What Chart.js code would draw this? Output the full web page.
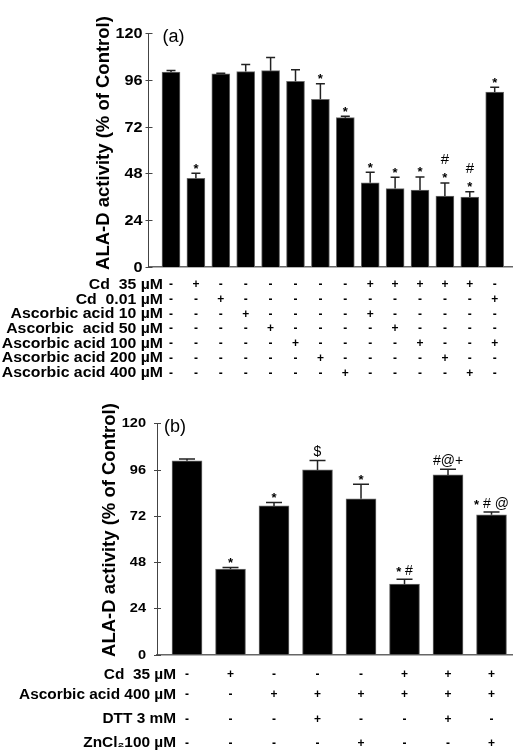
<!DOCTYPE html>
<html><head><meta charset="utf-8">
<script src="https://cdn.jsdelivr.net/npm/chart.js@4/dist/chart.umd.min.js"></script>
<style>
html,body{margin:0;padding:0;background:#fff;}
#wrap{position:relative;width:513px;height:751px;overflow:hidden;background:#fff;}
canvas{position:absolute;left:0;}
</style></head><body>
<div id="wrap">
<canvas id="ca" width="513" height="380" style="top:0"></canvas>
<canvas id="cb" width="513" height="371" style="top:380px"></canvas>
</div>
<script>
// ---------- Panel (a) data ----------
const groupsA = ['Control','Cd 35','Cd 0.01','AA 10','AA 50','AA 100','AA 200','AA 400',
  'Cd 35 + AA 10','Cd 35 + AA 50','Cd 35 + AA 100','Cd 35 + AA 200','Cd 35 + AA 400','Cd 0.01 + AA 100'];
const valuesA = [100, 45.5, 99, 100.2, 100.7, 95.2, 86, 76.6, 43.2, 40.2, 39.5, 36.4, 35.9, 89.7];
const errorsA = [0.8, 2.6, 0.4, 3.7, 6.8, 6, 8, 0.7, 5.4, 5.8, 6.7, 6.7, 2.7, 2.5];
const marksA  = [[], ['*'], [], [], [], [], ['*'], ['*'], ['*'], ['*'], ['*'], ['*','#'], ['*','#'], ['*']];
const rowLabelsA = ['Cd  35 µM','Cd  0.01 µM','Ascorbic acid 10 µM','Ascorbic  acid 50 µM',
  'Ascorbic acid 100 µM','Ascorbic acid 200 µM','Ascorbic acid 400 µM'];
const cd35A  = ['-','+','-','-','-','-','-','-','+','+','+','+','+','-'];
const cd001A = ['-','-','+','-','-','-','-','-','-','-','-','-','-','+'];
const aa10A  = ['-','-','-','+','-','-','-','-','+','-','-','-','-','-'];
const aa50A  = ['-','-','-','-','+','-','-','-','-','+','-','-','-','-'];
const aa100A = ['-','-','-','-','-','+','-','-','-','-','+','-','-','+'];
const aa200A = ['-','-','-','-','-','-','+','-','-','-','-','+','-','-'];
const aa400A = ['-','-','-','-','-','-','-','+','-','-','-','-','+','-'];
const yTicksA = [0, 24, 48, 72, 96, 120];

// ---------- Panel (b) data ----------
const groupsB = ['Control','Cd 35','AA 400','AA 400 + DTT','AA 400 + ZnCl2','Cd 35 + AA 400',
  'Cd 35 + AA 400 + DTT','Cd 35 + AA 400 + ZnCl2'];
const valuesB = [100.5, 44.4, 77.1, 95.8, 80.8, 36.5, 93.2, 72.5];
const errorsB = [1, 0.7, 1.8, 4.9, 7.6, 2.5, 3, 1.4];
const marksB  = [[], ['*'], ['*'], ['$'], ['*'], ['* #'], ['#@+'], ['* # @']];
const rowLabelsB = ['Cd  35 µM','Ascorbic acid 400 µM','DTT 3 mM','ZnCl₂100 µM'];
const cd35B  = ['-','+','-','-','-','+','+','+'];
const aa400B = ['-','-','+','+','+','+','+','+'];
const dttB   = ['-','-','-','+','-','-','+','-'];
const zncl2B = ['-','-','-','-','+','-','-','+'];
const yTicksB = [0, 24, 48, 72, 96, 120];

const yTitle = 'ALA-D activity (% of Control)';
const FAM = "'Liberation Sans', Arial, Helvetica, sans-serif";
Chart.defaults.font.family = FAM;

function stretchText(ctx, text, x, y, font, align, sx) {
  ctx.save();
  ctx.font = font;
  const w = ctx.measureText(text).width * sx;
  const x0 = align === 'right' ? x - w : (align === 'center' ? x - w / 2 : x);
  ctx.translate(x0, y);
  ctx.scale(sx, 1);
  ctx.textAlign = 'left';
  ctx.textBaseline = 'middle';
  ctx.fillText(text, 0, 0);
  ctx.restore();
}

function drawMark(ctx, str, cx, cy, size) {
  const glyphs = [...str];
  const mixed = glyphs.length > 1;
  const fontFor = g => g === '*' ? `bold 13px ${FAM}` : `${size}px ${FAM}`;
  const widths = glyphs.map(g => { ctx.font = fontFor(g); return ctx.measureText(g).width; });
  let x = cx - widths.reduce((a, b) => a + b, 0) / 2;
  ctx.textAlign = 'left';
  glyphs.forEach((g, k) => {
    ctx.font = fontFor(g);
    if (g === '*') { ctx.textBaseline = 'alphabetic'; ctx.fillText(g, x, cy + 0.57 * 13 - (mixed ? 3 : 0)); }
    else { ctx.textBaseline = 'middle'; ctx.fillText(g, x, cy); }
    x += widths[k];
  });
}

function makePanel(canvasId, cfg) {
  const decor = {
    id: 'decor',
    afterDatasetsDraw(chart) {
      const ctx = chart.ctx, xs = chart.scales.x, ys = chart.scales.y, ca = chart.chartArea;
      ctx.save();
      ctx.fillStyle = '#000';
      // y tick marks (crossing the axis) and labels
      ctx.strokeStyle = '#444'; ctx.lineWidth = 1;
      cfg.yTicks.forEach(v => {
        const y = Math.round(ys.getPixelForValue(v)) + 0.5;
        ctx.beginPath(); ctx.moveTo(ca.left - 3, y); ctx.lineTo(ca.left + 4, y); ctx.stroke();
        stretchText(ctx, String(v), ca.left - cfg.tickGap, y, `bold ${cfg.tickSize}px ${FAM}`, 'right', cfg.tickSx);
      });
      // error bars
      ctx.strokeStyle = '#222'; ctx.lineWidth = 1.5;
      cfg.values.forEach((v, i) => {
        const x = xs.getPixelForValue(i);
        const y0 = ys.getPixelForValue(v);
        const y1 = ys.getPixelForValue(v + cfg.errors[i]);
        ctx.beginPath();
        ctx.moveTo(x, y0); ctx.lineTo(x, y1);
        ctx.moveTo(x - cfg.capW / 2, y1); ctx.lineTo(x + cfg.capW / 2, y1);
        ctx.stroke();
        // significance marks
        let yc = y1 - cfg.markGap;
        cfg.marks[i].forEach(m => {
          drawMark(ctx, m, x, yc, cfg.markSize);
          yc -= cfg.markStep;
        });
      });
      // panel letter
      ctx.font = `${cfg.letterSize}px ${FAM}`;
      ctx.textAlign = 'left'; ctx.textBaseline = 'middle';
      ctx.fillText(cfg.letter, ca.left + cfg.letterDx, ca.top + cfg.letterDy);
      // y title
      ctx.save();
      ctx.translate(cfg.titleX, cfg.titleY);
      ctx.rotate(-Math.PI / 2);
      ctx.font = `bold ${cfg.titleSize}px ${FAM}`;
      ctx.textAlign = 'center'; ctx.textBaseline = 'middle';
      ctx.fillText(yTitle, 0, 0);
      ctx.restore();
      // treatment table
      cfg.rows.forEach((row, r) => {
        const y = ca.bottom + cfg.rowY[r];
        stretchText(ctx, cfg.rowLabels[r], cfg.labelRight, y, `bold ${cfg.labelSize}px ${FAM}`, 'right', cfg.labelSx);
        row.forEach((s, i) => {
          const x = xs.getPixelForValue(i);
          ctx.font = `bold 12px ${FAM}`;
          ctx.textAlign = 'center'; ctx.textBaseline = 'middle';
          ctx.fillText(s, x, y);
        });
      });
      ctx.restore();
    }
  };
  return new Chart(document.getElementById(canvasId), {
    type: 'bar',
    data: {
      labels: cfg.groups,
      datasets: [{
        data: cfg.values.map((v, i) => ({ x: i, y: v })),
        backgroundColor: '#000',
        borderColor: '#6a6a6a',
        borderWidth: 1,
        barThickness: cfg.barW
      }]
    },
    options: {
      responsive: false, animation: false, devicePixelRatio: 1,
      layout: { padding: { left: 0, top: cfg.padTop, right: 0, bottom: cfg.padBottom } },
      plugins: { legend: { display: false }, tooltip: { enabled: false } },
      scales: {
        x: {
          type: 'linear', offset: false, min: cfg.xMin, max: cfg.xMax,
          ticks: { display: false }, grid: { display: false },
          border: { display: true, color: '#666', width: 1.5 },
          afterFit(s) { s.height = 0; }
        },
        y: {
          min: 0, max: 120,
          ticks: { display: false, stepSize: 24 },
          grid: { display: false },
          border: { display: true, color: '#444', width: 1 },
          afterFit(s) { s.width = cfg.axisX; }
        }
      }
    },
    plugins: [decor]
  });
}

makePanel('ca', {
  groups: groupsA, values: valuesA, errors: errorsA, marks: marksA,
  rows: [cd35A, cd001A, aa10A, aa50A, aa100A, aa200A, aa400A], rowLabels: rowLabelsA,
  yTicks: yTicksA,
  axisX: 148.5, padTop: 33, padBottom: 113, xMin: -0.904, xMax: 13.735, barW: 18,
  capW: 9, markGap: 8, markStep: 15, markSize: 15,
  tickGap: 6, tickSize: 14.5, tickSx: 1.12,
  letter: '(a)', letterSize: 18, letterDx: 14, letterDy: 4,
  titleX: 103.5, titleY: 143, titleSize: 18.5,
  labelRight: 163, labelSize: 14, labelSx: 1.13,
  rowY: [18, 32.7, 47.4, 62.1, 76.8, 91.5, 106.2]
});

makePanel('cb', {
  groups: groupsB, values: valuesB, errors: errorsB, marks: marksB,
  rows: [cd35B, aa400B, dttB, zncl2B], rowLabels: rowLabelsB,
  yTicks: yTicksB,
  axisX: 157, padTop: 43.3, padBottom: 96.5, xMin: -0.69, xMax: 7.494, barW: 30,
  capW: 16, markGap: 8, markStep: 15, markSize: 14,
  tickGap: 11, tickSize: 13.5, tickSx: 1.08,
  letter: '(b)', letterSize: 18, letterDx: 7, letterDy: 4,
  titleX: 109.5, titleY: 150, titleSize: 18.5,
  labelRight: 176, labelSize: 14, labelSx: 1.1,
  rowY: [20.5, 40.5, 64.8, 88.8]
});
</script>
</body></html>
